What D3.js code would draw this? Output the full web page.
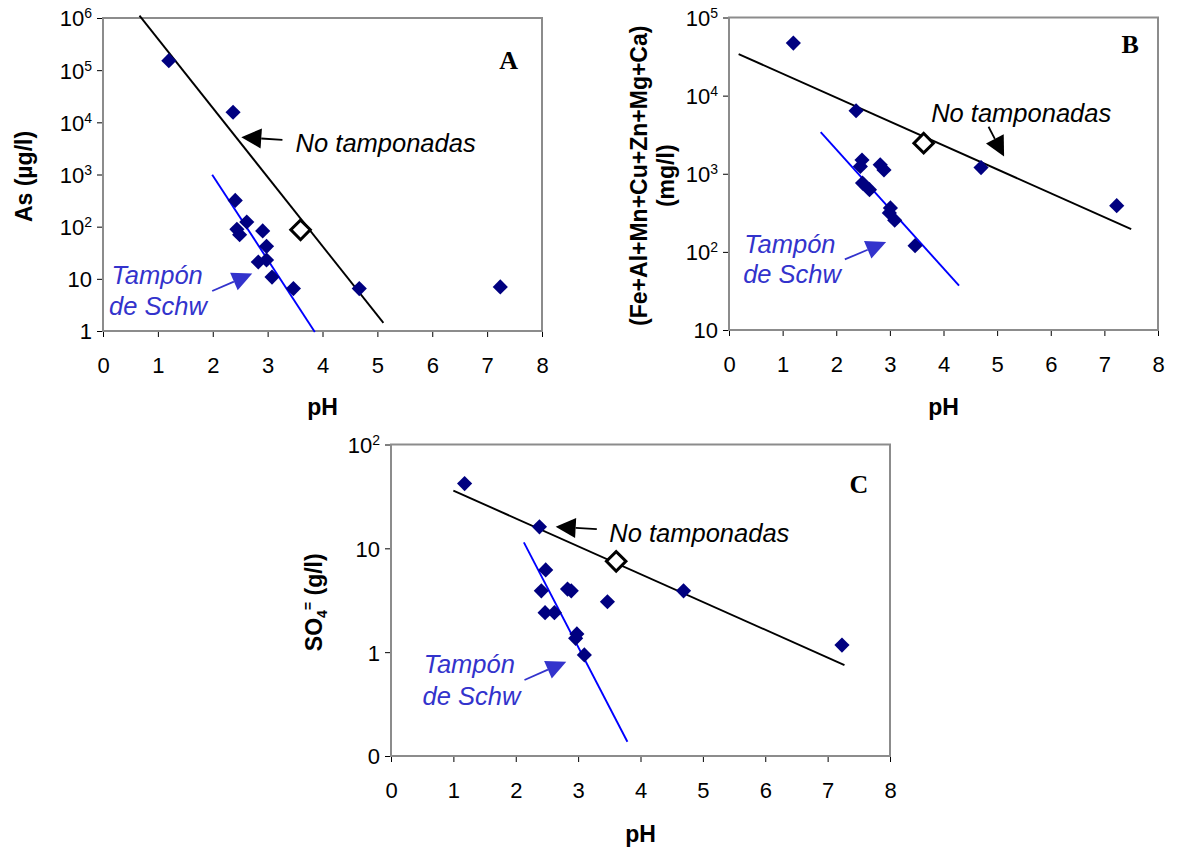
<!DOCTYPE html>
<html>
<head>
<meta charset="utf-8">
<script src="https://cdn.jsdelivr.net/npm/d3@7"></script>
<style>
  body { margin: 0; background: #fff; }
  svg { display: block; }
</style>
</head>
<body>
<svg id="chart" width="1177" height="847"></svg>
<script>
// ---- Data -------------------------------------------------------------
const phTicks = [0, 1, 2, 3, 4, 5, 6, 7, 8];

// Panel A: dissolved arsenic (µg/l) vs pH
const phA = [1.20, 2.37, 2.41, 2.44, 2.49, 2.62, 2.83, 2.91, 2.98, 2.98, 3.08, 3.47, 4.67, 7.24];
const asA = [152000, 15600, 318, 89, 70, 123, 21, 83, 42, 23, 10.8, 6.5, 6.5, 7.0];
const refA = [[3.60, 87]];
const fitUnbufferedA = [[0.665, 1.11e6], [5.11, 1.43]];
const fitSchwA = [[1.99, 990], [3.86, 0.96]];
const yTicksA = [1, 10, 1e2, 1e3, 1e4, 1e5, 1e6];

// Panel B: sum of metals Fe+Al+Mn+Cu+Zn+Mg+Ca (mg/l) vs pH
const phB = [1.20, 2.37, 2.48, 2.45, 2.49, 2.62, 2.82, 2.89, 3.01, 2.99, 3.09, 3.47, 4.70, 7.23];
const metalsB = [47000, 6400, 1500, 1240, 760, 625, 1300, 1120, 365, 315, 254, 120, 1200, 390];
const refB = [[3.63, 2460]];
const fitUnbufferedB = [[0.18, 34000], [7.50, 196]];
const fitSchwB = [[1.71, 3400], [4.29, 37]];
const yTicksB = [10, 1e2, 1e3, 1e4, 1e5];

// Panel C: sulphate (g/l) vs pH
const phC = [1.18, 2.38, 2.48, 2.41, 2.47, 2.62, 2.83, 2.89, 3.47, 2.98, 2.96, 3.10, 4.69, 7.23];
const so4C = [42, 16.1, 6.2, 3.9, 2.4, 2.4, 4.05, 3.9, 3.06, 1.5, 1.36, 0.94, 3.9, 1.17];
const refC = [[3.61, 7.5]];
const fitUnbufferedC = [[1.0, 36], [7.27, 0.75]];
const fitSchwC = [[2.13, 11.4], [3.79, 0.137]];
const yTicksC = [0.1, 1, 10, 1e2];

const labelUnbuffered = "No tamponadas";
const labelSchw = ["Tampón", "de Schw"];

// ---- Styling ----------------------------------------------------------
const SANS = '"Liberation Sans", Arial, Helvetica, sans-serif';
const SERIF = '"Liberation Serif", "Times New Roman", serif';
const NAVY = "#000080";
const BLUE_LINE = "#0000ff";
const BLUE_TEXT = "#3333cc";
const FRAME = "#8c8c8c";

const svg = d3.select("#chart");

// Panel layout and annotation anchors (annotation anchors in data units)
const panels = [
  {
    letter: "A", left: 103, right: 542, top: 18, bottom: 331,
    yDomain: [1, 1e6], yTicks: yTicksA,
    ph: phA, values: asA, ref: refA,
    fitBlack: fitUnbufferedA, fitBlue: fitSchwA,
    yTitle: [["As (µg/l)"]], yTitleX: [32], xTitleY: 415,
    letterAt: [7.39, 1.05e5],
    blackText: [3.51, 2700], blackArrow: [[3.27, 4600], [2.52, 5200]],
    blueText: [[0.156, 8.1], [0.11, 2.0]], blueArrow: [[1.99, 5.85], [2.72, 12.6]]
  },
  {
    letter: "B", left: 729, right: 1158, top: 17.5, bottom: 330,
    yDomain: [10, 1e5], yTicks: yTicksB,
    ph: phB, values: metalsB, ref: refB,
    fitBlack: fitUnbufferedB, fitBlue: fitSchwB,
    yTitle: [["(Fe+Al+Mn+Cu+Zn+Mg+Ca)"], ["(mg/l)"]], yTitleX: [647, 674], xTitleY: 415,
    letterAt: [7.48, 34700],
    blackText: [3.77, 4660], blackArrow: [[4.84, 4000], [5.13, 1660]],
    blueText: [[0.286, 97], [0.264, 40]], blueArrow: [[2.16, 80], [2.93, 134]]
  },
  {
    letter: "C", left: 391, right: 890, top: 444.5, bottom: 756,
    yDomain: [0.1, 100], yTicks: yTicksC,
    ph: phC, values: so4C, ref: refC,
    fitBlack: fitUnbufferedC, fitBlue: fitSchwC,
    yTitle: "SO4", yTitleX: [322], xTitleY: 842,
    letterAt: [7.50, 34.3],
    blackText: [3.50, 11.6], blackArrow: [[3.30, 15.3], [2.64, 16.1]],
    blueText: [[0.524, 0.625], [0.506, 0.31]], blueArrow: [[2.14, 0.54], [2.81, 0.81]]
  }
];

// Log tick labels: 0.1 shows as "0", 1 and 10 plain, higher powers as 10^n
function writeLogLabel(textSel, v) {
  const e = Math.round(Math.log10(v));
  textSel.text(null);
  if (e < 0) textSel.append("tspan").text("0");
  else if (e === 0) textSel.append("tspan").text("1");
  else if (e === 1) textSel.append("tspan").text("10");
  else {
    textSel.append("tspan").text("10");
    textSel.append("tspan").attr("font-size", 14).attr("dy", -8).text(e);
  }
}

function drawArrow(g, x, y, from, to, color, headLen, headW, width) {
  const x0 = x(from[0]), y0 = y(from[1]);
  const x1 = x(to[0]), y1 = y(to[1]);
  const ang = Math.atan2(y1 - y0, x1 - x0);
  const bx = x1 - headLen * Math.cos(ang), by = y1 - headLen * Math.sin(ang);
  const px = -Math.sin(ang) * headW / 2, py = Math.cos(ang) * headW / 2;
  g.append("line")
    .attr("x1", x0).attr("y1", y0).attr("x2", bx).attr("y2", by)
    .attr("stroke", color).attr("stroke-width", width);
  g.append("path")
    .attr("d", `M${x1},${y1}L${bx + px},${by + py}L${bx - px},${by - py}Z`)
    .attr("fill", color);
}

panels.forEach(p => {
  const x = d3.scaleLinear().domain([0, 8]).range([p.left, p.right]);
  const y = d3.scaleLog().domain(p.yDomain).range([p.bottom, p.top]);
  const g = svg.append("g");

  // x axis ticks and labels
  const gx = g.append("g")
    .attr("transform", `translate(0,${p.bottom})`)
    .call(d3.axisBottom(x).tickValues(phTicks).tickSize(6).tickFormat(d3.format("d")));
  gx.attr("font-size", 22).attr("font-family", SANS);
  gx.select(".domain").remove();
  gx.selectAll(".tick line").attr("stroke", "#000");
  gx.selectAll(".tick text").attr("y", 42).attr("dy", null).attr("fill", "#000");

  // y axis ticks and labels
  const gy = g.append("g")
    .attr("transform", `translate(${p.left},0)`)
    .call(d3.axisLeft(y).tickValues(p.yTicks).tickSize(6).tickFormat(() => ""));
  gy.attr("font-size", 22).attr("font-family", SANS);
  gy.select(".domain").remove();
  gy.selectAll(".tick line").attr("stroke", "#000");
  gy.selectAll(".tick text")
    .attr("x", -11).attr("dy", "0.36em").attr("fill", "#000")
    .each(function (d) { writeLogLabel(d3.select(this), d); });

  // plot frame
  g.append("rect")
    .attr("x", p.left).attr("y", p.top)
    .attr("width", p.right - p.left).attr("height", p.bottom - p.top)
    .attr("fill", "none").attr("stroke", FRAME).attr("stroke-width", 2);

  // axis titles
  g.append("text")
    .attr("x", (p.left + p.right) / 2).attr("y", p.xTitleY)
    .attr("text-anchor", "middle")
    .attr("font-family", SANS).attr("font-size", 23).attr("font-weight", "bold")
    .text("pH");

  const cy = (p.top + p.bottom) / 2 + 2;
  if (p.yTitle === "SO4") {
    const t = g.append("text")
      .attr("transform", `translate(${p.yTitleX[0]},${cy}) rotate(-90)`)
      .attr("text-anchor", "middle")
      .attr("font-family", SANS).attr("font-size", 23).attr("font-weight", "bold");
    t.append("tspan").text("SO");
    t.append("tspan").attr("font-size", 14).attr("dy", 5).text("4");
    t.append("tspan").attr("font-size", 14).attr("dy", -14).text("=");
    t.append("tspan").attr("dy", 9).text(" (g/l)");
  } else {
    p.yTitle.forEach((line, i) => {
      g.append("text")
        .attr("transform", `translate(${p.yTitleX[i]},${cy}) rotate(-90)`)
        .attr("text-anchor", "middle")
        .attr("font-family", SANS).attr("font-size", 23).attr("font-weight", "bold")
        .text(line[0]);
    });
  }

  // regression lines
  const line = d3.line().x(d => x(d[0])).y(d => y(d[1]));
  g.append("path").datum(p.fitBlack).attr("d", line)
    .attr("fill", "none").attr("stroke", "#000").attr("stroke-width", 1.9);
  g.append("path").datum(p.fitBlue).attr("d", line)
    .attr("fill", "none").attr("stroke", BLUE_LINE).attr("stroke-width", 1.9);

  // sample points
  g.selectAll("path.pt").data(d3.zip(p.ph, p.values)).join("path")
    .attr("class", "pt")
    .attr("d", d3.symbol(d3.symbolSquare, 115))
    .attr("transform", d => `translate(${x(d[0])},${y(d[1])}) rotate(45)`)
    .attr("fill", NAVY);

  // reference point (open diamond)
  g.selectAll("path.ref").data(p.ref).join("path")
    .attr("class", "ref")
    .attr("d", d3.symbol(d3.symbolSquare, 190))
    .attr("transform", d => `translate(${x(d[0])},${y(d[1])}) rotate(45)`)
    .attr("fill", "#fff").attr("stroke", "#000").attr("stroke-width", 3);

  // annotations
  g.append("text")
    .attr("x", x(p.blackText[0])).attr("y", y(p.blackText[1]))
    .attr("font-family", SANS).attr("font-size", 25.5).attr("font-style", "italic")
    .attr("fill", "#000").text(labelUnbuffered);
  drawArrow(g, x, y, p.blackArrow[0], p.blackArrow[1], "#000", 20, 20, 1.8);

  p.blueText.forEach((pos, i) => {
    g.append("text")
      .attr("x", x(pos[0])).attr("y", y(pos[1]))
      .attr("font-family", SANS).attr("font-size", 25.5).attr("font-style", "italic")
      .attr("fill", BLUE_TEXT).text(labelSchw[i]);
  });
  drawArrow(g, x, y, p.blueArrow[0], p.blueArrow[1], BLUE_TEXT, 20, 19, 1.8);

  // panel letter
  g.append("text")
    .attr("x", x(p.letterAt[0])).attr("y", y(p.letterAt[1]))
    .attr("text-anchor", "middle")
    .attr("font-family", SERIF).attr("font-size", 26).attr("font-weight", "bold")
    .text(p.letter);
});
</script>
</body>
</html>
